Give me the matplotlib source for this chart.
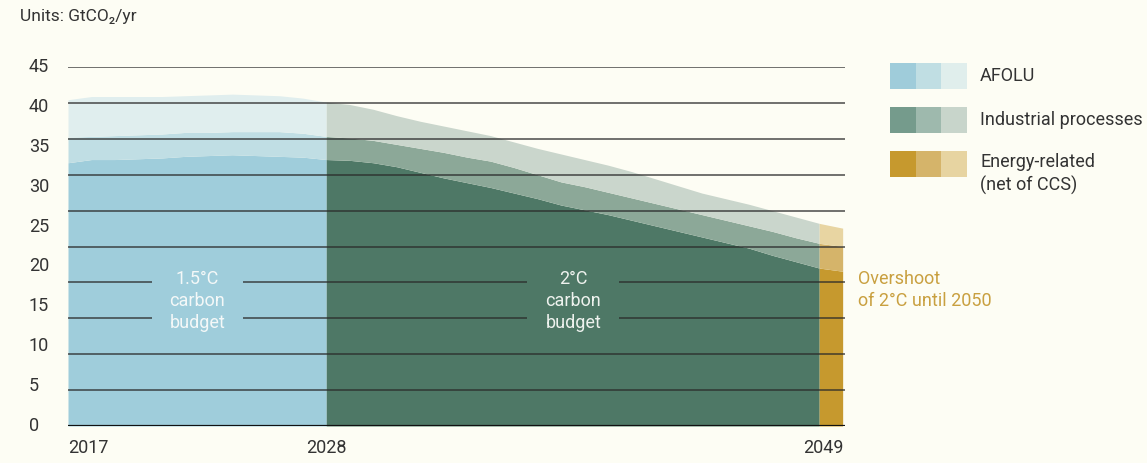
import numpy as np
import matplotlib
matplotlib.use("Agg")
import matplotlib.pyplot as plt
from matplotlib.patches import Rectangle
from matplotlib import transforms

plt.rcParams["font.family"] = ["Roboto", "DejaVu Sans"]

# --- data (GtCO2/yr) ---
years = np.arange(2017, 2051)
# top of the energy band
energy = [33.0, 33.4, 33.4, 33.5, 33.6, 33.8, 33.9, 34.0, 33.9, 33.8, 33.7,
          33.4, 33.3, 33.0, 32.5, 31.8, 31.1, 30.5, 29.9, 29.2, 28.5, 27.7,
          27.1, 26.5, 25.8, 25.1, 24.4, 23.7, 23.0, 22.3, 21.4, 20.6, 19.8, 19.4]
# top of energy + industrial processes
energy_ind = [36.2, 36.3, 36.4, 36.5, 36.6, 36.8, 36.8, 36.9, 36.9, 36.9, 36.7,
              36.3, 36.1, 35.8, 35.3, 34.8, 34.3, 33.7, 33.2, 32.4, 31.5, 30.6,
              30.0, 29.3, 28.6, 27.9, 27.2, 26.5, 25.8, 25.1, 24.4, 23.6, 22.9, 22.5]
# total incl. AFOLU
total = [40.9, 41.3, 41.3, 41.3, 41.3, 41.4, 41.5, 41.6, 41.5, 41.4, 41.1,
         40.6, 40.3, 39.7, 38.9, 38.2, 37.6, 37.0, 36.4, 35.6, 34.8, 34.1,
         33.4, 32.7, 31.9, 31.0, 30.1, 29.2, 28.5, 27.8, 27.0, 26.2, 25.4, 24.8]

y_ticks = [0, 5, 10, 15, 20, 25, 30, 35, 40, 45]
x_labels = ["2017", "2028", "2049"]
legend_labels = ["AFOLU", "Industrial processes", "Energy-related\n(net of CCS)"]

energy = np.array(energy)
energy_ind = np.array(energy_ind)
total = np.array(total)

# colours: period -> (energy, industrial, afolu)
periods = [
    (2017, 2028, ["#9FCDDB", "#C0DEE4", "#E0EEEE"]),
    (2028, 2049, ["#4E7866", "#8CA898", "#CAD6CC"]),
    (2049, 2050, ["#C6992E", "#D5B46A", "#E8D5A2"]),
]
legend_colors = [
    ["#9FCCDA", "#C0DEE3", "#E0EEEC"],
    ["#759B8C", "#9EB9AD", "#C8D5CB"],
    ["#C6992E", "#D5B46A", "#E7D4A1"],
]
bg = "#FDFDF4"
text_col = "#333333"
gold_text = "#C9A040"

W, H = 1147, 463
fig = plt.figure(figsize=(W / 100, H / 100), dpi=100)
fig.patch.set_facecolor(bg)

x0_px, x1_px = 68, 845
y0_px, y1_px = 426, 67
ax = fig.add_axes([x0_px / W, (H - y0_px) / H, (x1_px - x0_px) / W, (y0_px - y1_px) / H])
ax.set_xlim(2017, 2050.1)
ax.set_ylim(0, 45)
ax.axis("off")
ax.patch.set_alpha(0)

for start, end, cols in periods:
    m = (years >= start) & (years <= end)
    ax.fill_between(years[m], 0, energy[m], color=cols[0], lw=0)
    ax.fill_between(years[m], energy[m], energy_ind[m], color=cols[1], lw=0)
    ax.fill_between(years[m], energy_ind[m], total[m], color=cols[2], lw=0)

# grid lines (11 of them, evenly spaced), some broken for the labels
grid_y = np.linspace(0, 45, 11)
gaps = [(2020.57, 2024.45), (2036.57, 2040.49)]
for i, gy in enumerate(grid_y):
    if i == 0:
        ax.hlines(gy, 2017, 2050.1, color="#111111", lw=1.6, zorder=3)
        continue
    if gy in (grid_y[3], grid_y[4]):
        segs = [(2017, gaps[0][0]), (gaps[0][1], gaps[1][0]), (gaps[1][1], 2050.1)]
    else:
        segs = [(2017, 2050.1)]
    for a, b in segs:
        ax.hlines(gy, a, b, color="#2a2a2a", lw=1.15, alpha=0.82, zorder=3)

# budget labels
ax.text(2022.51, 15.7, "1.5°C\ncarbon\nbudget", color="#F4F8F8", fontsize=13,
        ha="center", va="center", linespacing=1.3, zorder=4)
ax.text(2038.53, 15.7, "2°C\ncarbon\nbudget", color="#EEF2EE", fontsize=13,
        ha="center", va="center", linespacing=1.3, zorder=4)

# y tick labels, left aligned
ytr = transforms.blended_transform_factory(fig.transFigure, ax.transData)
for t in y_ticks:
    ax.text(29 / W, t, str(t), transform=ytr, ha="left", va="center",
            fontsize=13, color=text_col)

# x tick labels
xtr = transforms.blended_transform_factory(ax.transData, fig.transFigure)
ax.text(2017, 1 - 448 / H, x_labels[0], transform=xtr, ha="left", va="center",
        fontsize=13, color=text_col)
ax.text(2028, 1 - 448 / H, x_labels[1], transform=xtr, ha="center", va="center",
        fontsize=13, color=text_col)
ax.text(2050.05, 1 - 448 / H, x_labels[2], transform=xtr, ha="right", va="center",
        fontsize=13, color=text_col)

# overlay in pixel coords for notes and legend
ov = fig.add_axes([0, 0, 1, 1])
ov.set_xlim(0, W)
ov.set_ylim(H, 0)
ov.axis("off")
ov.patch.set_alpha(0)

ov.text(20, 17, "Units: GtCO₂/yr", fontsize=12.5, color=text_col, ha="left", va="center")
ov.text(858, 290, "Overshoot\nof 2°C until 2050", fontsize=13, color=gold_text,
        ha="left", va="center", linespacing=1.35)

row_tops = [63, 107, 151]
for r, (cols, lab) in enumerate(zip(legend_colors, legend_labels)):
    for k, c in enumerate(cols):
        ov.add_patch(Rectangle((890 + k * 25.7, row_tops[r]), 25.7, 26, color=c, lw=0))
    if r < 2:
        ov.text(980, row_tops[r] + 13, lab, fontsize=13, color=text_col, ha="left", va="center")
    else:
        ov.text(980, row_tops[r] + 23, lab, fontsize=13, color=text_col, ha="left",
                va="center", linespacing=1.3)

fig.savefig("out.png", dpi=100, facecolor=bg)
